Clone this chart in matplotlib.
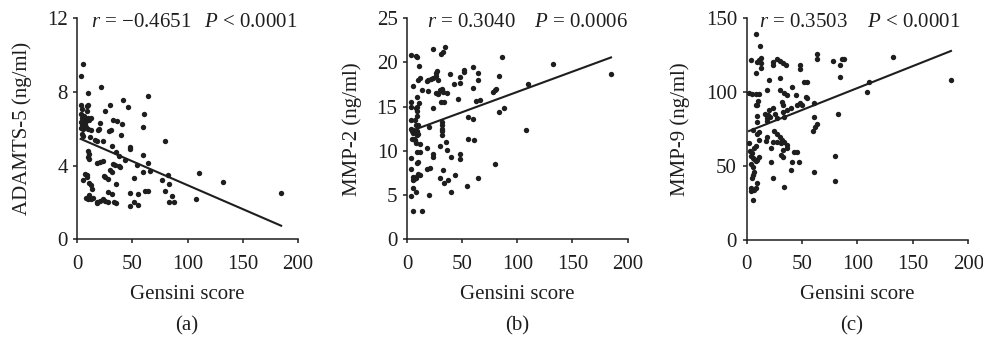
import numpy as np
from matplotlib import pyplot as plt

plt.rcParams['font.family'] = ['Liberation Serif', 'DejaVu Serif']
plt.rcParams['mathtext.fontset'] = 'custom'
plt.rcParams['mathtext.rm'] = 'Liberation Serif'
plt.rcParams['mathtext.it'] = 'Liberation Serif:italic'

# Panel (a): ADAMTS-5 vs Gensini score
gensini_a = [5.4, 3.3, 21.2, 9.4, 63.8, 41.8, 45.7, 29.7, 3.0, 4.0, 8.5, 10.0, 9.0, 25.1, 60.5,
             3.0, 4.0, 5.0, 3.5, 6.0, 7.0, 8.0, 9.5, 11.0, 12.0, 4.5, 6.5, 3.0, 5.0, 8.0, 10.0, 12.0,
             32.5, 36.0, 40.2, 60.0, 19.5, 18.5, 20.5, 28.4, 30.5, 39.3, 4.0, 5.5, 11.5, 16.0, 17.5,
             80.0, 23.6, 9.5, 10.2, 9.8, 10.5, 31.5, 35.0, 38.0, 43.6, 47.8, 47.8, 59.6, 18.0, 21.0,
             23.5, 32.5, 34.0, 39.0, 54.0, 64.0, 65.7, 60.0, 30.0, 31.0, 6.5, 8.5, 9.0, 5.1, 24.5,
             25.5, 27.5, 51.7, 35.0, 11.0, 12.5, 13.6, 82.0, 83.5, 77.0, 110.0, 132.0, 185.0, 80.0,
             86.0, 61.0, 64.5, 55.0, 47.8, 27.5, 31.8, 11.0, 9.5, 8.0, 14.5, 17.5, 20.5, 23.0, 25.0,
             28.0, 33.0, 35.0, 47.8, 51.5, 55.0, 83.0, 88.0, 108.0, 17.5, 12.0, 38.0]
adamts5 = [9.5, 8.87, 8.29, 7.93, 7.8, 7.55, 7.2, 7.29, 7.3, 7.1, 7.25, 7.3, 6.95, 6.99, 6.82,
           6.8, 6.6, 6.5, 6.35, 6.7, 6.55, 6.4, 6.6, 6.5, 6.6, 6.2, 6.25, 6.05, 6.0, 6.1, 6.0, 5.95,
           6.48, 6.45, 6.26, 6.1, 6.0, 5.95, 6.3, 5.88, 5.95, 5.65, 5.7, 5.6, 5.54, 5.4, 5.35,
           5.32, 5.34, 4.8, 4.65, 4.45, 4.35, 5.08, 4.76, 4.54, 4.29, 5.0, 4.88, 4.6, 4.15, 4.2,
           4.25, 4.1, 4.05, 3.95, 4.04, 4.13, 3.69, 3.64, 3.75, 3.65, 3.55, 3.5, 3.4, 3.24, 3.45,
           3.4, 3.3, 3.33, 3.02, 3.05, 2.95, 2.73, 3.47, 3.0, 3.22, 3.58, 3.1, 2.5, 2.64,
           2.37, 2.64, 2.64, 2.44, 2.53, 2.59, 2.46, 2.4, 2.2, 2.25, 2.26, 2.05, 2.1, 2.2, 2.1,
           2.0, 2.05, 1.95, 1.83, 2.03, 1.86, 2.0, 2.0, 2.2, 1.95, 2.2, 4.0]

# Panel (b): MMP-2 vs Gensini score
gensini_b = [3.3, 8.0, 9.0, 23.6, 34.5, 31.0, 32.7, 11.0, 51.7, 51.7, 60.0, 86.0, 132.0, 185.0,
             26.0, 27.0, 19.0, 21.5, 10.0, 11.5, 17.5, 23.6, 25.7, 28.0, 39.0, 42.5, 47.8, 47.8,
             64.0, 64.0, 83.0, 5.4, 13.6, 18.5, 29.7, 31.5, 32.7, 26.0, 27.5, 35.7, 60.0, 78.0,
             79.5, 81.0, 110.0, 8.5, 3.3, 3.3, 11.0, 9.0, 31.0, 33.0, 45.7, 62.0, 66.0, 23.6, 9.0,
             9.0, 55.0, 60.0, 83.0, 88.0, 3.3, 3.3, 8.0, 10.0, 5.0, 9.0, 9.0, 19.4, 31.5, 31.5,
             31.5, 31.5, 31.5, 108.0, 4.5, 7.0, 8.0, 12.0, 35.0, 55.0, 60.5, 9.0, 11.5, 17.5, 29.7,
             35.7, 39.3, 47.8, 47.8, 3.3, 23.6, 23.6, 9.0, 10.0, 20.5, 17.5, 3.3, 80.0, 32.0, 12.0,
             9.4, 43.3, 5.0, 6.5, 5.5, 8.0, 7.5, 29.7, 33.0, 37.0, 64.0, 54.0, 5.4, 7.9, 3.3, 19.4,
             39.3, 5.4, 13.6, 5.5, 6.0, 9.5, 4.0, 7.0, 8.0]
mmp2 = [20.85, 20.7, 20.6, 21.5, 21.7, 21.0, 21.2, 19.6, 19.1, 18.95, 19.5, 20.6, 19.8, 18.7,
        18.8, 19.0, 18.0, 18.1, 18.0, 18.2, 17.9, 18.2, 18.5, 18.0, 18.7, 17.6, 18.4, 17.7,
        18.8, 18.0, 18.5, 17.3, 16.9, 16.8, 16.9, 17.0, 16.7, 16.6, 16.4, 16.5, 17.1, 16.7,
        16.9, 17.0, 17.6, 16.1, 15.5, 15.0, 15.45, 15.0, 15.5, 15.5, 15.9, 15.7, 15.8, 14.9, 14.5,
        13.9, 13.8, 13.6, 14.4, 14.8, 13.5, 12.5, 12.9, 12.9, 12.4, 12.2, 11.8, 12.7, 13.3, 12.9,
        12.5, 12.2, 11.8, 12.4, 11.3, 11.2, 10.9, 10.8, 11.05, 11.3, 11.2, 9.9, 9.9, 10.3, 10.6,
        10.1, 9.35, 9.6, 9.05, 9.16, 9.65, 9.3, 8.6, 8.8, 8.1, 8.0, 8.0, 8.5, 7.8, 7.25,
        7.4, 7.3, 7.0, 6.85, 6.75, 7.05, 6.9, 6.95, 6.4, 6.7, 6.9, 6.0, 5.8, 5.3, 4.95, 5.0,
        5.3, 3.25, 3.25, 12.0, 11.4, 11.9, 12.2, 13.5, 14.8]

# Panel (c): MMP-9 vs Gensini score
gensini_c = [8.1, 12.0, 3.6, 9.6, 11.0, 13.2, 12.6, 27.7, 30.1, 33.1, 35.2, 24.1, 24.1, 13.2,
             48.1, 48.1, 63.8, 63.8, 8.1, 20.2, 30.1, 40.6, 51.7, 54.1, 2.1, 5.1, 8.1, 11.1, 18.1,
             10.0, 8.0, 9.5, 30.1, 33.7, 36.1, 44.2, 45.7, 48.1, 53.2, 54.7, 50.2, 60.8, 32.2, 33.0,
             20.2, 24.0, 25.3, 36.7, 39.7, 9.6, 16.2, 19.3, 21.0, 18.0, 18.5, 33.0, 34.0, 27.7, 9.6,
             6.0, 9.6, 11.1, 60.8, 60.0, 62.0, 63.8, 24.7, 27.7, 30.0, 32.0, 34.0, 36.7, 27.7, 30.7,
             18.0, 17.5, 24.0, 2.1, 3.0, 4.5, 6.5, 8.1, 3.5, 5.5, 11.1, 21.7, 33.0, 36.7, 42.7, 45.7,
             30.7, 33.0, 6.6, 8.1, 9.6, 11.0, 3.6, 6.0, 41.2, 47.2, 22.3, 40.3, 60.8, 6.6, 6.0, 4.5,
             24.1, 9.0, 4.2, 33.7, 8.1, 3.6, 6.6, 6.0, 78.2, 85.7, 87.8, 84.2, 84.2, 132.3, 110.6,
             108.2, 82.1, 80.0, 80.0, 184.4]
mmp9 = [139.2, 131.5, 121.8, 120.7, 122.0, 123.0, 120.0, 122.5, 121.1, 119.6, 118.4, 120.7, 118.4,
        116.2, 118.4, 115.5, 125.6, 122.5, 112.8, 108.3, 109.4, 103.8, 107.2, 107.2, 99.3, 99.0,
        98.8, 98.8, 101.5, 94.0, 91.5, 91.0, 101.5, 99.3, 98.1, 98.1, 91.0, 93.0, 97.0, 96.0,
        91.4, 92.5, 93.6, 91.6, 88.0, 89.0, 85.0, 88.0, 89.0, 84.0, 85.0, 84.5, 83.5, 82.3, 80.3,
        86.5, 83.0, 82.3, 80.1, 74.4, 72.0, 73.0, 83.5, 73.8, 76.5, 78.7, 73.8, 72.0, 70.0, 67.7,
        66.0, 64.0, 66.5, 65.5, 70.0, 67.0, 66.0, 65.5, 60.5, 59.0, 62.0, 63.5, 57.0, 55.5, 67.7,
        62.0, 61.0, 62.0, 59.8, 59.3, 57.5, 56.0, 55.0, 53.5, 54.0, 56.4, 51.6, 49.6, 53.0, 53.0,
        53.0, 47.4, 46.3, 46.0, 44.0, 42.0, 41.7, 38.4, 35.0, 36.1, 35.0, 33.0, 34.0, 27.0,
        121.1, 122.5, 122.5, 118.4, 110.1, 123.6, 107.2, 99.9, 85.0, 56.8, 40.2, 108.3]

# fitted lines (intercept, slope)
fit_a = (5.53, -0.0259)
fit_b = (12.1, 0.0458)
fit_c = (73.1, 0.297)

ylabels = ['ADAMTS-5 (ng/ml)', 'MMP-2 (ng/ml)', 'MMP-9 (ng/ml)']
yticks = [[0, 4, 8, 12], [0, 5, 10, 15, 20, 25], [0, 50, 100, 150]]
xticks = [0, 50, 100, 150, 200]
r_texts = ['$r$ = \u22120.4651', '$r$ = 0.3040', '$r$ = 0.3503']
p_texts = ['$P$ < 0.0001', '$P$ = 0.0006', '$P$ < 0.0001']
panel_tags = ['(a)', '(b)', '(c)']

fig = plt.figure(figsize=(9.83, 3.47), dpi=100)
# axes boxes in figure fractions
boxes = [[0.0787, 0.3103, 0.2241, 0.6370],
         [0.4143, 0.3103, 0.2241, 0.6370],
         [0.7596, 0.3084, 0.2254, 0.6390]]
r_x = [12.0, 17.5, 11.5]
p_x = [200, 200, 192.5]
ylab_x = [-0.252, -0.252, -0.300]
tag_x = [186.7, 516.7, 851.7]

data = [(gensini_a, adamts5, fit_a), (gensini_b, mmp2, fit_b), (gensini_c, mmp9, fit_c)]
ink = '#1e1e1e'

for i, (xs, ys, fit) in enumerate(data):
    ax = fig.add_axes(boxes[i])
    xs = np.array(xs)
    ax.scatter(xs, ys, s=15, color=ink, linewidths=0, zorder=3)
    xl = np.array([xs.min(), xs.max()])
    ax.plot(xl, fit[0] + fit[1] * xl, color=ink, lw=1.5, zorder=2)

    ax.set_xlim(0, 200)
    ax.set_ylim(0, yticks[i][-1])
    ax.set_xticks(xticks)
    ax.set_yticks(yticks[i])
    for s in ['top', 'right']:
        ax.spines[s].set_visible(False)
    for s in ['left', 'bottom']:
        ax.spines[s].set_linewidth(1.1)
        ax.spines[s].set_color(ink)
    ax.tick_params(direction='out', length=3, width=1.1, color=ink,
                   labelsize=15, labelcolor=ink)
    ax.tick_params(axis='x', pad=8)
    ax.tick_params(axis='y', pad=4)

    ax.set_xlabel('Gensini score', fontsize=15, color=ink)
    ax.xaxis.set_label_coords(0.5, -0.205)
    ax.set_ylabel(ylabels[i], fontsize=15, color=ink, va='center')
    ax.yaxis.set_label_coords(ylab_x[i], 0.5)

    ax.text(r_x[i], yticks[i][-1] * 0.982, r_texts[i], fontsize=15, color=ink,
            ha='left', va='center')
    ax.text(p_x[i], yticks[i][-1] * 0.982, p_texts[i], fontsize=15, color=ink,
            ha='right', va='center')

    fig.text(tag_x[i] / 983, 1 - 326 / 347, panel_tags[i], fontsize=15, color=ink,
             ha='center', va='center')

fig.savefig('out.png', dpi=100)
